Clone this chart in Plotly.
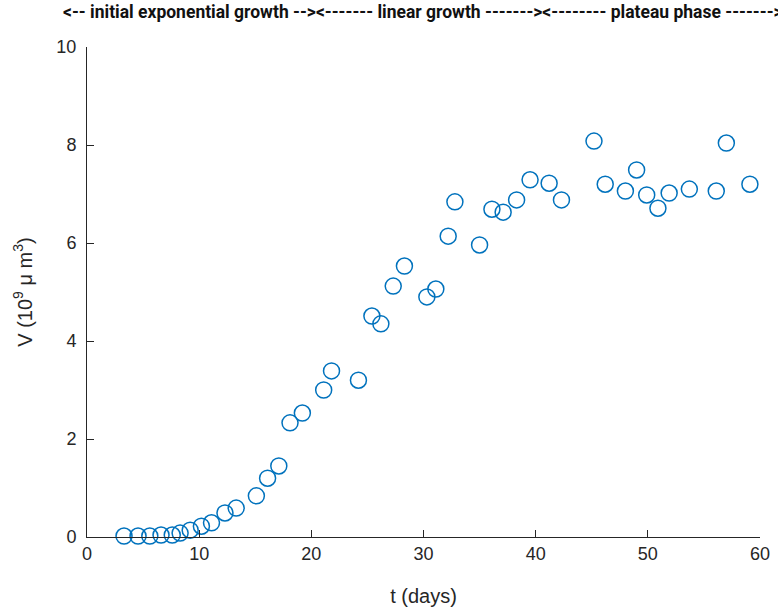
import plotly.graph_objects as go

t_days = [3.3, 4.55, 5.6, 6.6, 7.6, 8.3, 9.2, 10.2, 11.1, 12.3, 13.3, 15.1, 16.1, 17.1,
          18.1, 19.2, 21.1, 21.8, 24.2, 25.4, 26.2, 27.3, 28.3, 30.3, 31.1, 32.2, 32.8,
          35.0, 36.1, 37.1, 38.3, 39.5, 41.2, 42.3, 45.2, 46.2, 48.0, 49.0, 49.9, 50.9,
          51.9, 53.7, 56.1, 57.0, 59.1]
volume = [0.02, 0.02, 0.02, 0.04, 0.04, 0.08, 0.14, 0.22, 0.29, 0.49, 0.59, 0.84, 1.2, 1.45,
          2.33, 2.53, 3.0, 3.39, 3.2, 4.51, 4.35, 5.12, 5.53, 4.9, 5.06, 6.14, 6.84,
          5.96, 6.69, 6.63, 6.88, 7.29, 7.22, 6.88, 8.08, 7.2, 7.06, 7.49, 6.98, 6.71,
          7.02, 7.1, 7.06, 8.04, 7.2]

title_text = ("<-- initial exponential growth --><------- linear growth "
              "-------><-------- plateau phase ------->")

fig = go.Figure()
fig.add_trace(go.Scatter(
    x=t_days, y=volume, mode="markers",
    marker=dict(symbol="circle-open", size=16, color="#0072BD", line=dict(width=1.5, color="#0072BD")),
    showlegend=False, cliponaxis=False,
))

axis_common = dict(
    showgrid=False, zeroline=False, showline=True, linecolor="#262626", linewidth=1,
    ticks="inside", ticklen=7, tickcolor="#262626", automargin=False,
    tickfont=dict(family="Liberation Sans, Arial, sans-serif", size=18, color="#262626"),
    mirror=False,
)

fig.update_layout(
    width=778, height=615,
    margin=dict(l=87, r=18, t=47, b=78),
    plot_bgcolor="white", paper_bgcolor="white",
    title=dict(text="<b>" + title_text + "</b>", x=0.0810, xanchor="left", xref="container",
               y=0.9805, yanchor="middle", yref="container", automargin=False,
               font=dict(family="Roboto, sans-serif", size=17.5, color="#111111")),
    xaxis=dict(range=[0, 60], tickvals=[0, 10, 20, 30, 40, 50, 60],
               title=dict(text="t (days)", font=dict(family="Liberation Sans, Arial, sans-serif", size=20, color="#262626"), standoff=26),
               **axis_common),
    yaxis=dict(range=[0, 10], tickvals=[0, 2, 4, 6, 8, 10], ticklabelstandoff=6,
               title=dict(text="V (10<sup>9</sup> μ m<sup>3</sup>)", font=dict(family="Liberation Sans, Arial, sans-serif", size=20, color="#262626"), standoff=18),
               **axis_common),
)

fig.write_html("out.html", config={"displayModeBar": False},
               post_script="document.body.style.margin='0';")
